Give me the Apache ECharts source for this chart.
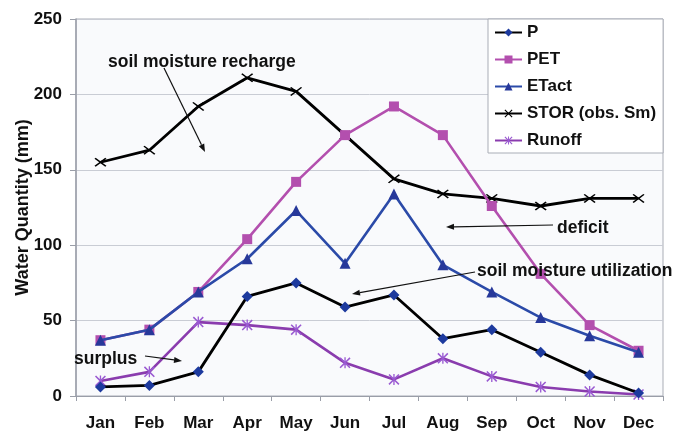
<!DOCTYPE html>
<html>
<head>
<meta charset="utf-8">
<script src="https://cdn.jsdelivr.net/npm/echarts@6/dist/echarts.min.js"></script>
<style>
  html, body { margin: 0; padding: 0; background: #fff; }
  #chart { width: 685px; height: 432px; }
</style>
</head>
<body>
<div id="chart"></div>
<script>
// months on the x axis
var months = ['Jan', 'Feb', 'Mar', 'Apr', 'May', 'Jun', 'Jul', 'Aug', 'Sep', 'Oct', 'Nov', 'Dec'];
// series values (mm)
var P      = [6, 7, 16, 66, 75, 59, 67, 38, 44, 29, 14, 2];
var PET    = [37, 44, 69, 104, 142, 173, 192, 173, 126, 81, 47, 30];
var ETact  = [37, 44, 69, 91, 123, 88, 134, 87, 69, 52, 40, 29];
var STOR   = [155, 163, 192, 211, 202, 173, 144, 134, 131, 126, 131, 131];
var Runoff = [10, 16, 49, 47, 44, 22, 11, 25, 13, 6, 3, 1];
var yTicks = [0, 50, 100, 150, 200, 250];

var FONT = '"Liberation Sans", Arial, sans-serif';
// x marker & asterisk marker as filled paths
var xMark = 'path://M0,1 L1,0 L5,4 L9,0 L10,1 L6,5 L10,9 L9,10 L5,6 L1,10 L0,9 L4,5 Z';
var starMark = 'path://M0,1 L1,0 L5,4 L9,0 L10,1 L6,5 L10,9 L9,10 L5,6 L1,10 L0,9 L4,5 Z M4.4,0 L5.6,0 L5.6,10 L4.4,10 Z';

// arrow = line + head
function arrow(x1, y1, x2, y2) {
  var dx = x2 - x1, dy = y2 - y1;
  var len = Math.sqrt(dx * dx + dy * dy);
  var ux = dx / len, uy = dy / len;
  var hl = 8, hw = 3;
  var bx = x2 - ux * hl, by = y2 - uy * hl;
  return [{
    type: 'line', z: 100,
    shape: { x1: x1, y1: y1, x2: bx, y2: by },
    style: { stroke: '#111', lineWidth: 1.2 }
  }, {
    type: 'polygon', z: 100,
    shape: { points: [[x2, y2], [bx - uy * hw, by + ux * hw], [bx + uy * hw, by - ux * hw]] },
    style: { fill: '#111' }
  }];
}

function label(text, x, y) {
  return {
    type: 'text', z: 100, x: x, y: y,
    style: { text: text, font: 'bold 17.5px ' + FONT, fill: '#111', textVerticalAlign: 'middle' }
  };
}

var chart = echarts.init(document.getElementById('chart'));

var graphics = [
  label('soil moisture recharge', 108, 62),
  label('deficit', 557, 228),
  label('soil moisture utilization', 477, 271),
  label('surplus', 74, 359)
].concat(arrow(164, 68, 205, 152))
 .concat(arrow(553, 225, 446, 227))
 .concat(arrow(475, 272, 352, 294))
 .concat(arrow(145, 356, 182, 361));

var option = {
  backgroundColor: '#fff',
  animation: false,
  textStyle: { fontFamily: FONT },
  grid: {
    left: 76, right: 22, top: 19, bottom: 36,
    show: true, backgroundColor: '#f9fafc', borderColor: '#a9adb6', borderWidth: 1
  },
  legend: {
    orient: 'vertical',
    left: 488, top: 19,
    backgroundColor: '#fff',
    borderColor: '#a9adb6', borderWidth: 1,
    padding: [5, 7, 4, 6],
    itemWidth: 27, itemHeight: 10, itemGap: 10,
    textStyle: { fontFamily: FONT, fontWeight: 'bold', fontSize: 17, lineHeight: 17, color: '#111' },
    data: ['P', 'PET', 'ETact', 'STOR (obs. Sm)', 'Runoff']
  },
  xAxis: {
    type: 'category',
    data: months,
    boundaryGap: true,
    axisLine: { lineStyle: { color: '#9a9ea8', width: 1 } },
    axisTick: { show: true, length: 5, lineStyle: { color: '#9a9ea8' } },
    axisLabel: { color: '#111', fontWeight: 'bold', fontSize: 17, margin: 19, fontFamily: FONT },
    splitLine: { show: false }
  },
  yAxis: {
    type: 'value',
    min: yTicks[0], max: yTicks[yTicks.length - 1], interval: 50,
    name: 'Water Quantity (mm)',
    nameLocation: 'middle', nameRotate: 90, nameGap: 44,
    nameMoveOverlap: false,
    nameTextStyle: { color: '#111', fontWeight: 'bold', fontSize: 18, fontFamily: FONT },
    axisLine: { show: true, lineStyle: { color: '#9a9ea8', width: 1.5 } },
    axisTick: { show: true, length: 6, lineStyle: { color: '#9a9ea8' } },
    axisLabel: { color: '#111', fontWeight: 'bold', fontSize: 17, margin: 14, fontFamily: FONT },
    splitLine: { lineStyle: { color: '#c9ccd4', width: 1 } }
  },
  series: [
    {
      name: 'P', type: 'line', data: P, z: 5,
      symbol: 'diamond', symbolSize: 11,
      lineStyle: { color: '#000', width: 2.8 },
      itemStyle: { color: '#1d3a9e' }
    },
    {
      name: 'PET', type: 'line', data: PET, z: 3,
      symbol: 'rect', symbolSize: 10,
      lineStyle: { color: '#b34fae', width: 2.6 },
      itemStyle: { color: '#b34fae' }
    },
    {
      name: 'ETact', type: 'line', data: ETact, z: 4,
      symbol: 'triangle', symbolSize: 11,
      lineStyle: { color: '#2b4aa8', width: 2.6 },
      itemStyle: { color: '#27389a' }
    },
    {
      name: 'STOR (obs. Sm)', type: 'line', data: STOR, z: 2,
      symbol: xMark, symbolSize: [12, 9],
      lineStyle: { color: '#000', width: 2.8 },
      itemStyle: { color: '#000' }
    },
    {
      name: 'Runoff', type: 'line', data: Runoff, z: 1,
      symbol: starMark, symbolSize: 11,
      lineStyle: { color: '#8a3cae', width: 2.6 },
      itemStyle: { color: '#9a5ad2' }
    }
  ],
  graphic: graphics
};

chart.setOption(option);
</script>
</body>
</html>
